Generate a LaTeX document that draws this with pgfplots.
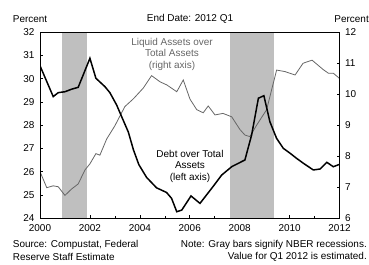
\documentclass[border=0pt]{standalone}
\usepackage{pgfplots}
\pgfplotsset{compat=1.18}
\usepackage{fontspec}
\setmainfont{Liberation Sans}
\pgfplotstableread{
yr v
2000.00 30.56
2000.53 29.23
2000.73 29.40
2001.00 29.44
2001.27 29.55
2001.53 29.63
2002.00 30.88
2002.24 30.02
2002.60 29.66
2002.80 29.40
2003.07 28.87
2003.27 28.37
2003.54 27.70
2003.74 26.95
2003.96 26.30
2004.27 25.75
2004.67 25.30
2005.07 25.10
2005.27 24.85
2005.48 24.27
2005.68 24.34
2006.05 24.95
2006.41 24.63
2006.88 25.28
2007.28 25.85
2007.68 26.21
2008.21 26.50
2008.48 27.58
2008.75 29.16
2008.97 29.27
2009.21 28.15
2009.48 27.43
2009.75 27.00
2010.02 26.79
2010.28 26.57
2010.55 26.36
2010.95 26.07
2011.22 26.11
2011.49 26.40
2011.75 26.21
2012.00 26.31
}\debt
\pgfplotstableread{
yr v
2000.00 7.50
2000.27 6.98
2000.53 7.04
2000.73 7.01
2001.00 6.73
2001.27 6.94
2001.53 7.10
2001.80 7.55
2002.00 7.75
2002.24 8.08
2002.40 8.03
2002.67 8.55
2003.00 8.98
2003.40 9.60
2003.74 9.85
2004.14 10.20
2004.47 10.60
2004.81 10.40
2005.08 10.30
2005.48 10.08
2005.74 10.46
2006.01 9.84
2006.28 9.50
2006.54 9.40
2006.74 9.62
2007.01 9.33
2007.33 9.38
2007.68 9.27
2008.01 8.86
2008.21 8.68
2008.41 8.63
2008.68 9.00
2009.08 9.50
2009.48 10.78
2009.82 10.73
2010.22 10.62
2010.54 11.00
2010.90 11.10
2011.34 10.80
2011.55 10.68
2011.75 10.68
2012.00 10.51
}\liquid
\begin{document}
\begin{tikzpicture}[font=\fontsize{10}{11.5}\selectfont]
\useasboundingbox (-40bp,-47bp) rectangle (329bp,218bp);
\pgfplotsset{
  base/.style={
    scale only axis, width=299.5bp, height=185.7bp,
    at={(0,0)}, anchor=south west,
    xmin=2000, xmax=2012,
    axis line style={black, line width=0.6pt},
    tick align=inside, major tick length=3bp, minor tick length=2bp,
    tick style={black, line width=0.5pt},
    tick label style={font=\fontsize{10}{11.5}\selectfont},
    /pgf/number format/assume math mode=true,
    clip=true,
  }
}
\begin{axis}[base,
  ymin=6, ymax=12, ytick={6,7,...,12},
  ytick pos=right, xtick pos=bottom,
  xtick={2000,2002,...,2012}, minor xtick={2001,2003,...,2011},
  xticklabel style={/pgf/number format/1000 sep={}, yshift=-3bp},
  yticklabel style={xshift=2bp},
]
\addplot[fill=black!25, draw=none, forget plot] coordinates {(2000.87,6) (2000.87,12) (2001.89,12) (2001.89,6)} -- cycle;
\addplot[fill=black!25, draw=none, forget plot] coordinates {(2007.61,6) (2007.61,12) (2009.37,12) (2009.37,6)} -- cycle;
\addplot[color=black!60, line width=0.8pt] table[x=yr, y=v] {\liquid};
\end{axis}
\begin{axis}[base,
  ymin=24, ymax=32, ytick={24,25,...,32},
  ytick pos=left, xtick=\empty,
  yticklabel style={xshift=-2bp},
]
\addplot[color=black, line width=1.5pt] table[x=yr, y=v] {\debt};
\end{axis}
\node[anchor=center] at (150bp,199bp) {End Date: 2012 Q1};
\node[anchor=west, inner sep=0pt] at (-27.3bp,199bp) {Percent};
\node[anchor=east, inner sep=0pt] at (329bp,199bp) {Percent};
\node[align=center, text=black!60, inner sep=0pt] at (132bp,164bp) {Liquid Assets over\\Total Assets\\(right axis)};
\node[align=center, text=black, inner sep=0pt] at (150bp,52bp) {Debt over Total\\Assets\\(left axis)};
\node[anchor=west, inner sep=0pt] at (-27.3bp,-27bp) {Source: Compustat, Federal};
\node[anchor=west, inner sep=0pt] at (-27.3bp,-39bp) {Reserve Staff Estimate};
\node[anchor=east, inner sep=0pt] at (327bp,-27bp) {Note: Gray bars signify NBER recessions.};
\node[anchor=east, inner sep=0pt] at (327bp,-39bp) {Value for Q1 2012 is estimated.};
\end{tikzpicture}
\end{document}
